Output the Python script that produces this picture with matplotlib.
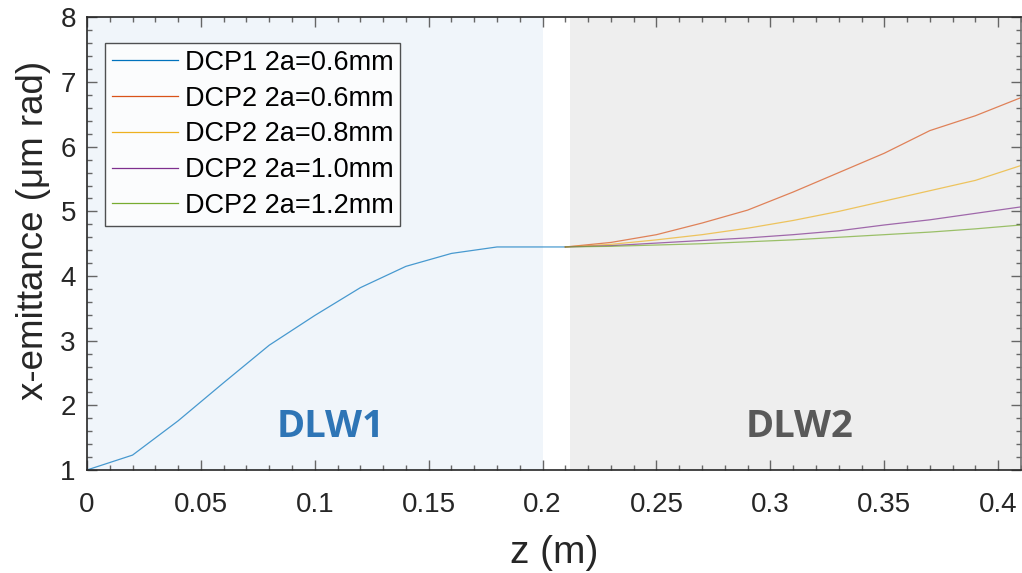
import numpy as np
import matplotlib
matplotlib.use("Agg")
import matplotlib.pyplot as plt
from matplotlib.ticker import MultipleLocator

# -------------------------
# Emittance along the two DLW sections
# -------------------------
z_dlw1 = [0.0, 0.02, 0.04, 0.06, 0.08, 0.10, 0.12, 0.14, 0.16, 0.18, 0.20, 0.21]
emit_dcp1 = [1.0, 1.23, 1.76, 2.35, 2.93, 3.39, 3.82, 4.15, 4.35, 4.45, 4.45, 4.45]

z_dlw2 = [0.21, 0.23, 0.25, 0.27, 0.29, 0.31, 0.33, 0.35, 0.37, 0.39, 0.41]
emit_dcp2_06 = [4.45, 4.52, 4.64, 4.82, 5.02, 5.30, 5.60, 5.90, 6.25, 6.48, 6.76]
emit_dcp2_08 = [4.45, 4.49, 4.56, 4.64, 4.74, 4.86, 5.00, 5.16, 5.32, 5.48, 5.71]
emit_dcp2_10 = [4.45, 4.47, 4.51, 4.55, 4.59, 4.64, 4.70, 4.79, 4.87, 4.97, 5.07]
emit_dcp2_12 = [4.45, 4.46, 4.48, 4.50, 4.53, 4.56, 4.60, 4.64, 4.68, 4.73, 4.79]

labels = ["DCP1 2a=0.6mm", "DCP2 2a=0.6mm", "DCP2 2a=0.8mm",
          "DCP2 2a=1.0mm", "DCP2 2a=1.2mm"]
colors = ["#0072BD", "#D95319", "#EDB120", "#7E2F8E", "#77AC30"]

plt.rcParams["font.family"] = ["Liberation Sans", "DejaVu Sans"]

fig = plt.figure(figsize=(10.22, 5.73), dpi=100)
ax = fig.add_axes([0.0851, 0.1798, 0.9139, 0.7897])

# section shading
ax.axvspan(0.0, 0.20, color="#F0F5FA", zorder=0, lw=0)
ax.axvspan(0.212, 0.41, color="#EEEEEE", zorder=0, lw=0)

series = [(z_dlw1, emit_dcp1), (z_dlw2, emit_dcp2_06), (z_dlw2, emit_dcp2_08),
          (z_dlw2, emit_dcp2_10), (z_dlw2, emit_dcp2_12)]
for (zz, ee), lab, c in zip(series, labels, colors):
    ax.plot(zz, ee, color=c, lw=0.9, alpha=0.7, label=lab)

ax.text(0.107, 1.66, "DLW1", color="#2E75B6", fontsize=27.5, fontweight="bold",
        family="Open Sans", ha="center", va="center")
ax.text(0.313, 1.66, "DLW2", color="#595959", fontsize=27.5, fontweight="bold",
        family="Open Sans", ha="center", va="center")

ax.set_xlim(0, 0.41)
ax.set_ylim(1, 8)
ax.xaxis.set_major_locator(MultipleLocator(0.05))
ax.xaxis.set_minor_locator(MultipleLocator(0.01))
ax.yaxis.set_major_locator(MultipleLocator(1))
ax.yaxis.set_minor_locator(MultipleLocator(0.2))
ax.xaxis.set_major_formatter(plt.FuncFormatter(lambda v, p: f"{v:g}"))
ax.tick_params(which="both", direction="in", top=True, right=True,
               color="#666666", width=1.0, labelsize=20, labelcolor="#262626")
ax.tick_params(axis="x", which="major", pad=16)
ax.tick_params(axis="y", which="major", pad=8)
ax.tick_params(which="major", length=7)
ax.tick_params(which="minor", length=3.5)

for side in ["left", "bottom", "top"]:
    ax.spines[side].set_color("#262626")
    ax.spines[side].set_linewidth(1.2)
ax.spines["right"].set_color("#707070")
ax.spines["right"].set_linewidth(1.2)

ax.set_xlabel("z (m)", fontsize=28, color="#262626", labelpad=12)
ax.set_ylabel("x-emittance (μm rad)", fontsize=26.5, color="#262626", labelpad=7)
ax.yaxis.label.set_y(0.529)

leg = ax.legend(loc="upper left", bbox_to_anchor=(0.0193, 0.9436), fontsize=19.5,
                frameon=True, fancybox=False, handlelength=2.45, handletextpad=0.25,
                labelspacing=0.36, borderpad=0.25, borderaxespad=0.0)
leg.get_frame().set_edgecolor("#262626")
leg.get_frame().set_linewidth(1.0)
for h in leg.get_lines():
    h.set_alpha(1.0)

fig.savefig("out.png", dpi=100)
